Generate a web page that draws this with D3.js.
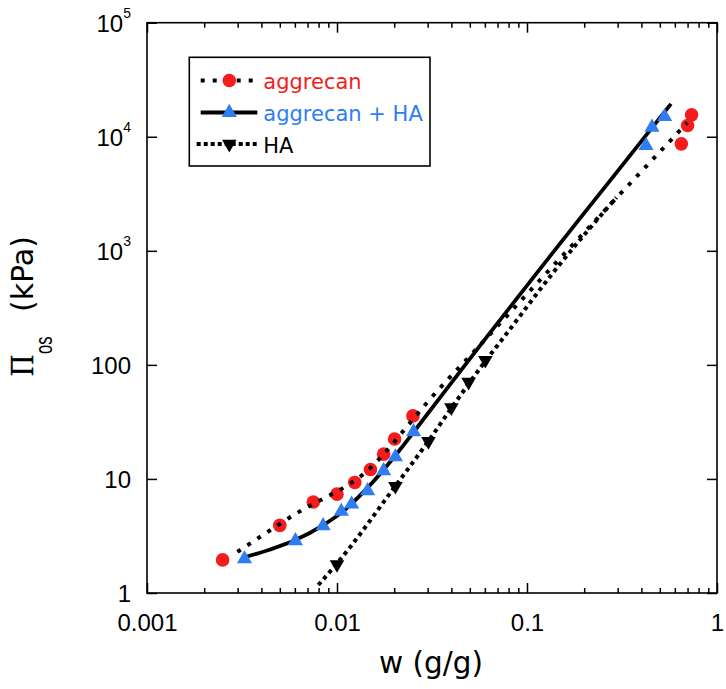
<!DOCTYPE html>
<html>
<head>
<meta charset="utf-8">
<script src="https://cdn.jsdelivr.net/npm/d3@7/dist/d3.min.js"></script>
<style>
  html, body { margin: 0; padding: 0; background: #fff; }
  svg { display: block; }
</style>
</head>
<body>
<svg id="chart" width="726" height="689"></svg>
<script>
// ---------------- data ----------------
const xTicks = [0.001, 0.01, 0.1, 1];
const xTickLabels = ["0.001", "0.01", "0.1", "1"];
const xMinorTicks = [0.002,0.003,0.004,0.005,0.006,0.007,0.008,0.009,
                     0.02,0.03,0.04,0.05,0.06,0.07,0.08,0.09,
                     0.2,0.3,0.4,0.5,0.6,0.7,0.8,0.9];
const yTicks = [1, 10, 100, 1000, 10000, 100000];
const yTickBase = ["1", "10", "100", "10", "10", "10"];
const yTickExp  = ["", "", "", "3", "4", "5"];

// aggrecan (red circles)
const aggW = [0.0025, 0.0050, 0.0075, 0.0100, 0.0124, 0.0150, 0.0176, 0.0201, 0.0251, 0.649, 0.700, 0.735];
const aggP = [1.95, 3.92, 6.27, 7.36, 9.32, 12.1, 16.5, 22.4, 35.7, 8670, 12540, 15560];
// aggrecan + HA (blue triangles)
const aggHAW = [0.00326, 0.00604, 0.00845, 0.01054, 0.01194, 0.01449, 0.01759, 0.0203, 0.0253, 0.423, 0.455, 0.530];
const aggHAP = [1.99, 2.87, 3.88, 5.19, 6.01, 7.87, 11.8, 15.6, 25.9, 8370, 12100, 15000];
// HA (black down triangles)
const haW = [0.0100, 0.0203, 0.0303, 0.0400, 0.0493, 0.0604];
const haP = [1.78, 8.65, 21.4, 42.3, 70.8, 110];

// fitted curves
const aggFitW = [0.00299, 0.00404, 0.00641, 0.00857, 0.01161, 0.01393, 0.0184, 0.02344, 0.02988, 0.0528, 0.1443, 0.6977];
const aggFitP = [2.29, 3.19, 5.22, 6.79, 9.0, 11.2, 17.9, 29.0, 47.0, 131.6, 808, 13300];
const aggHAFitW = [0.003292, 0.004458, 0.006034, 0.00847, 0.01079, 0.01409, 0.01752, 0.02154, 0.02647, 0.05888, 0.1326, 0.2744, 0.5726];
const aggHAFitP = [2.07, 2.41, 2.91, 3.94, 5.22, 7.98, 11.94, 18.2, 28.4, 161, 904, 4150, 19400];
const haFitW = [0.00797, 0.01004, 0.02027, 0.03023, 0.03995, 0.0603, 0.07688, 0.1376, 0.2951];
const haFitP = [1.175, 1.83, 8.65, 21.4, 41.7, 107.5, 181.6, 647, 2935];

const legendLabels = ["aggrecan", "aggrecan + HA", "HA"];

// ---------------- styles ----------------
const RED = "#f41c1c";
const BLUE = "#2f7df2";
const BLACK = "#000";
const TICK_FONT = "'Liberation Sans', Arial, sans-serif";
const TITLE_FONT = "'DejaVu Sans', Verdana, sans-serif";

const svg = d3.select("#chart");
const L = 147, R = 717, T = 22.7, B = 593;

const x = d3.scaleLog().domain([0.001, 1]).range([L, R]);
const y = d3.scaleLog().domain([1, 1e5]).range([B, T]);

const zip = (a, b) => a.map((v, i) => [v, b[i]]);

// ---------------- axes ----------------
function styleAxis(g) {
  g.select(".domain").remove();
  g.selectAll(".tick line").attr("stroke", "#000").attr("stroke-width", 1.5);
  g.selectAll(".tick text").attr("fill", "#000");
}

// bottom major
svg.append("g").attr("transform", `translate(0,${B})`)
  .call(d3.axisBottom(x).tickValues(xTicks).tickSizeInner(-10).tickSizeOuter(0)
        .tickPadding(21).tickFormat((d, i) => xTickLabels[i]))
  .call(styleAxis)
  .call(g => g.selectAll(".tick text").attr("font-family", TICK_FONT).attr("font-size", 24));
// bottom minor
svg.append("g").attr("transform", `translate(0,${B})`)
  .call(d3.axisBottom(x).tickValues(xMinorTicks).tickSizeInner(-5).tickSizeOuter(0).tickFormat(""))
  .call(styleAxis);
// top major + minor
svg.append("g").attr("transform", `translate(0,${T})`)
  .call(d3.axisTop(x).tickValues(xTicks).tickSizeInner(-10).tickSizeOuter(0).tickFormat(""))
  .call(styleAxis);
svg.append("g").attr("transform", `translate(0,${T})`)
  .call(d3.axisTop(x).tickValues(xMinorTicks).tickSizeInner(-5).tickSizeOuter(0).tickFormat(""))
  .call(styleAxis);
// left
svg.append("g").attr("transform", `translate(${L},0)`)
  .call(d3.axisLeft(y).tickValues(yTicks).tickSizeInner(-10).tickSizeOuter(0)
        .tickPadding(16).tickFormat(() => ""))
  .call(styleAxis)
  .call(g => g.selectAll(".tick text")
    .attr("font-family", TICK_FONT).attr("font-size", 24).attr("dy", "0.35em")
    .each(function(d, i) {
      const t = d3.select(this);
      t.append("tspan").text(yTickBase[i]);
      if (yTickExp[i]) t.append("tspan").attr("font-size", 14).attr("dy", -13.5).text(yTickExp[i]);
    }));
// right
svg.append("g").attr("transform", `translate(${R},0)`)
  .call(d3.axisRight(y).tickValues(yTicks).tickSizeInner(-10).tickSizeOuter(0).tickFormat(""))
  .call(styleAxis);

// frame
svg.append("rect").attr("x", L).attr("y", T).attr("width", R - L).attr("height", B - T)
  .attr("fill", "none").attr("stroke", "#000").attr("stroke-width", 1.6);

// ---------------- marks ----------------
const plot = svg.append("g");
const line = d3.line().x(d => x(d[0])).y(d => y(d[1])).curve(d3.curveMonotoneX);
const triUp = d3.symbol().type(d3.symbolTriangle).size(100);
const triDown = d3.symbol().type(d3.symbolTriangle).size(92);

// aggrecan circles
plot.append("g").selectAll("circle").data(zip(aggW, aggP)).join("circle")
  .attr("cx", d => x(d[0])).attr("cy", d => y(d[1])).attr("r", 6.8).attr("fill", RED);
// aggrecan fit (dotted)
plot.append("path").datum(zip(aggFitW, aggFitP)).attr("d", line)
  .attr("fill", "none").attr("stroke", BLACK).attr("stroke-width", 4).attr("stroke-dasharray", "4,8");
// HA fit (dense dotted)
plot.append("path").datum(zip(haFitW, haFitP)).attr("d", line)
  .attr("fill", "none").attr("stroke", BLACK).attr("stroke-width", 4).attr("stroke-dasharray", "4,4");
// HA triangles
plot.append("g").selectAll("path").data(zip(haW, haP)).join("path")
  .attr("d", triDown).attr("transform", d => `translate(${x(d[0])},${y(d[1])}) rotate(180)`)
  .attr("fill", BLACK);
// aggrecan + HA fit (solid)
plot.append("path").datum(zip(aggHAFitW, aggHAFitP)).attr("d", line)
  .attr("fill", "none").attr("stroke", BLACK).attr("stroke-width", 3.8);
// aggrecan + HA triangles
plot.append("g").selectAll("path").data(zip(aggHAW, aggHAP)).join("path")
  .attr("d", triUp).attr("transform", d => `translate(${x(d[0])},${y(d[1])})`)
  .attr("fill", BLUE);

// ---------------- legend ----------------
const lg = svg.append("g");
lg.append("rect").attr("x", 189.3).attr("y", 57.3).attr("width", 430 - 189.3).attr("height", 166 - 57.3)
  .attr("fill", "#fff").attr("stroke", "#000").attr("stroke-width", 1.6);
const legendRows = [
  { y: 80.5, x1: 200.7, x2: 255.5, dash: "4,8", width: 4, color: RED, mark: "circle" },
  { y: 112.5, x1: 200.7, x2: 257.3, dash: null, width: 3.8, color: BLUE, mark: "up" },
  { y: 144, x1: 196.7, x2: 259.3, dash: "4,3", width: 4, color: BLACK, mark: "down" }
];
legendRows.forEach((r, i) => {
  const l = lg.append("line").attr("x1", r.x1).attr("x2", r.x2).attr("y1", r.y).attr("y2", r.y)
    .attr("stroke", "#000").attr("stroke-width", r.width);
  if (r.dash) l.attr("stroke-dasharray", r.dash);
  if (r.mark === "circle") lg.append("circle").attr("cx", 229.3).attr("cy", r.y).attr("r", 6.8).attr("fill", r.color);
  else if (r.mark === "up") lg.append("path").attr("d", triUp).attr("transform", `translate(229.3,${r.y})`).attr("fill", r.color);
  else lg.append("path").attr("d", triDown).attr("transform", `translate(229.3,${r.y}) rotate(180)`).attr("fill", r.color);
  lg.append("text").attr("x", 263.3).attr("y", r.y + 8.6)
    .attr("font-family", TITLE_FONT).attr("font-size", 21).attr("fill", r.color)
    .text(legendLabels[i]);
});

// ---------------- axis titles ----------------
svg.append("text").attr("x", 431).attr("y", 673).attr("text-anchor", "middle")
  .attr("font-family", TITLE_FONT).attr("font-size", 29.5).attr("fill", "#000")
  .text("w (g/g)");

svg.append("text").attr("transform", "translate(33.3,376) rotate(-90)")
  .attr("font-family", "'Liberation Serif', 'Times New Roman', serif").attr("font-size", 34)
  .attr("textLength", 21).attr("lengthAdjust", "spacingAndGlyphs").attr("fill", "#000")
  .attr("stroke", "#000").attr("stroke-width", 0.4)
  .text("Π");
svg.append("text").attr("transform", "translate(52,354) rotate(-90)")
  .attr("font-family", TICK_FONT).attr("font-size", 24)
  .attr("textLength", 17.5).attr("lengthAdjust", "spacingAndGlyphs").attr("fill", "#000")
  .text("os");
svg.append("text").attr("transform", "translate(33,312) rotate(-90)")
  .attr("font-family", TITLE_FONT).attr("font-size", 30).attr("fill", "#000")
  .text("(kPa)");
</script>
</body>
</html>
